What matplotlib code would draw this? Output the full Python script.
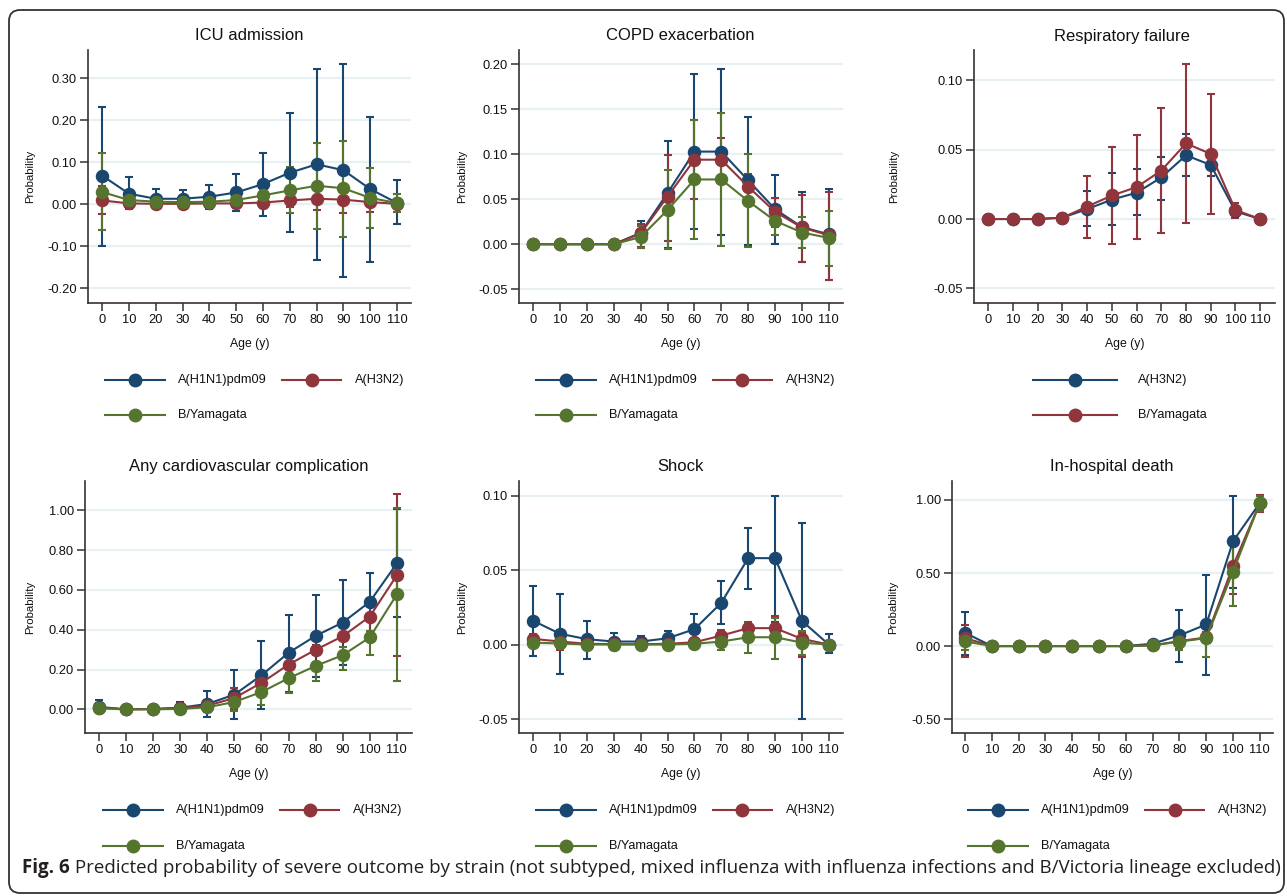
import numpy as np
import matplotlib
matplotlib.use('Agg')
import matplotlib.pyplot as plt
from matplotlib.lines import Line2D
from matplotlib.patches import FancyBboxPatch
from matplotlib.transforms import IdentityTransform

plt.rcParams['font.family'] = ['Liberation Sans', 'DejaVu Sans']
plt.rcParams['axes.unicode_minus'] = False

# ---------------- data ----------------
ages = [0, 10, 20, 30, 40, 50, 60, 70, 80, 90, 100, 110]
age_labels = [str(a) for a in ages]
strain_labels = ["A(H1N1)pdm09", "A(H3N2)", "B/Yamagata"]

# ICU admission
icu_h1n1 = [0.068, 0.025, 0.013, 0.013, 0.018, 0.028, 0.048, 0.075, 0.095, 0.081, 0.036, 0.003]
icu_h1n1_lo = [-0.099, -0.012, -0.008, -0.006, -0.012, -0.017, -0.028, -0.066, -0.132, -0.174, -0.137, -0.047]
icu_h1n1_hi = [0.232, 0.064, 0.037, 0.034, 0.045, 0.071, 0.123, 0.217, 0.321, 0.333, 0.208, 0.058]
icu_h3n2 = [0.009, 0.002, 0.001, 0.001, 0.002, 0.002, 0.004, 0.009, 0.013, 0.011, 0.005, 0.001]
icu_h3n2_lo = [-0.023, -0.006, -0.003, -0.003, -0.005, -0.006, -0.008, -0.006, -0.014, -0.021, -0.018, -0.004]
icu_h3n2_hi = [0.044, 0.010, 0.005, 0.005, 0.009, 0.010, 0.016, 0.024, 0.040, 0.045, 0.028, 0.006]
icu_byam = [0.029, 0.010, 0.006, 0.005, 0.006, 0.010, 0.021, 0.033, 0.044, 0.038, 0.015, 0.003]
icu_byam_lo = [-0.062, -0.006, -0.003, -0.003, -0.005, -0.008, -0.010, -0.022, -0.060, -0.079, -0.057, -0.019]
icu_byam_hi = [0.121, 0.027, 0.015, 0.013, 0.017, 0.028, 0.052, 0.089, 0.146, 0.151, 0.087, 0.024]

# COPD exacerbation
copd_h1n1 = [0, 0, 0, 0, 0.0126, 0.057, 0.103, 0.103, 0.071, 0.039, 0.019, 0.011]
copd_h1n1_lo = [0, 0, 0, 0, -0.004, -0.004, 0.017, 0.010, -0.001, 0.0, -0.020, -0.040]
copd_h1n1_hi = [0, 0, 0, 0, 0.026, 0.115, 0.189, 0.195, 0.141, 0.077, 0.058, 0.061]
copd_h3n2 = [0, 0, 0, 0, 0.012, 0.053, 0.094, 0.094, 0.064, 0.036, 0.0186, 0.010]
copd_h3n2_lo = [0, 0, 0, 0, -0.003, 0.004, 0.050, 0.070, 0.050, 0.019, -0.020, -0.040]
copd_h3n2_hi = [0, 0, 0, 0, 0.023, 0.099, 0.138, 0.118, 0.078, 0.051, 0.055, 0.058]
copd_byam = [0, 0, 0, 0, 0.008, 0.038, 0.072, 0.072, 0.048, 0.026, 0.013, 0.007]
copd_byam_lo = [0, 0, 0, 0, -0.004, -0.005, 0.006, -0.002, -0.003, 0.010, -0.004, -0.024]
copd_byam_hi = [0, 0, 0, 0, 0.020, 0.082, 0.138, 0.146, 0.100, 0.042, 0.030, 0.037]

# Respiratory failure (legend: A(H3N2) blue, B/Yamagata red)
resp_a = [0, 0, 0, 0.001, 0.0072, 0.014, 0.019, 0.030, 0.046, 0.039, 0.0055, 0]
resp_a_lo = [0, 0, 0, 0, -0.005, -0.004, 0.003, 0.014, 0.031, 0.031, 0.003, 0]
resp_a_hi = [0, 0, 0, 0.002, 0.020, 0.033, 0.036, 0.045, 0.0615, 0.047, 0.008, 0]
resp_b = [0, 0, 0, 0.001, 0.009, 0.017, 0.023, 0.035, 0.0546, 0.047, 0.0065, 0]
resp_b_lo = [0, 0, 0, 0, -0.0137, -0.018, -0.0144, -0.010, -0.003, 0.0036, 0.001, 0]
resp_b_hi = [0, 0, 0, 0.002, 0.031, 0.052, 0.061, 0.080, 0.112, 0.0906, 0.0115, 0]

# Any cardiovascular complication
cv_h1n1 = [0.012, 0.0, 0.002, 0.008, 0.027, 0.074, 0.171, 0.284, 0.369, 0.436, 0.540, 0.733]
cv_h1n1_lo = [-0.02, -0.003, -0.005, -0.025, -0.04, -0.049, 0.0, 0.087, 0.161, 0.221, 0.391, 0.463]
cv_h1n1_hi = [0.045, 0.004, 0.01, 0.037, 0.092, 0.198, 0.344, 0.475, 0.575, 0.651, 0.686, 1.005]
cv_h3n2 = [0.008, 0.0, 0.001, 0.005, 0.018, 0.057, 0.133, 0.225, 0.299, 0.367, 0.466, 0.673]
cv_h3n2_lo = [-0.01, -0.002, -0.003, -0.01, -0.012, 0.0, 0.106, 0.18, 0.272, 0.347, 0.372, 0.267]
cv_h3n2_hi = [0.03, 0.003, 0.005, 0.02, 0.049, 0.107, 0.163, 0.267, 0.324, 0.384, 0.560, 1.08]
cv_byam = [0.005, 0.0, 0.0, 0.002, 0.010, 0.037, 0.087, 0.156, 0.218, 0.272, 0.361, 0.577]
cv_byam_lo = [-0.01, -0.002, -0.002, -0.005, -0.01, -0.007, 0.022, 0.081, 0.143, 0.195, 0.275, 0.141]
cv_byam_hi = [0.02, 0.002, 0.003, 0.01, 0.03, 0.065, 0.119, 0.18, 0.237, 0.314, 0.393, 1.013]

# Shock
shock_h1n1 = [0.0159, 0.0072, 0.0036, 0.002, 0.002, 0.0042, 0.0103, 0.028, 0.058, 0.058, 0.0159, 0.0]
shock_h1n1_lo = [-0.0074, -0.020, -0.0096, -0.0038, 0.0, 0.001, 0.0, 0.014, 0.037, 0.0154, -0.050, -0.006]
shock_h1n1_hi = [0.039, 0.034, 0.0156, 0.0078, 0.006, 0.0092, 0.0206, 0.0425, 0.078, 0.100, 0.0818, 0.007]
shock_h3n2 = [0.0038, 0.002, 0.0005, 0.0003, 0.0002, 0.0005, 0.0015, 0.006, 0.011, 0.011, 0.0038, 0.0]
shock_h3n2_lo = [0.0, -0.0036, -0.001, -0.001, -0.001, -0.001, -0.001, 0.002, 0.0065, 0.0027, -0.0087, 0.0]
shock_h3n2_hi = [0.007, 0.005, 0.002, 0.0015, 0.001, 0.002, 0.004, 0.010, 0.0154, 0.019, 0.0076, 0.0]
shock_byam = [0.0013, 0.0007, 0.0, 0.0, 0.0, 0.0, 0.0005, 0.002, 0.0049, 0.0049, 0.0013, 0.0]
shock_byam_lo = [-0.0015, -0.002, -0.001, -0.001, -0.001, -0.001, -0.001, -0.0036, -0.0056, -0.0098, -0.0067, 0.0]
shock_byam_hi = [0.004, 0.003, 0.001, 0.001, 0.001, 0.001, 0.002, 0.0054, 0.0143, 0.0177, 0.0094, 0.0]

# In-hospital death
death_h1n1 = [0.091, 0, 0, 0, 0, 0, 0, 0.016, 0.073, 0.148, 0.718, 0.98]
death_h1n1_lo = [-0.061, 0, 0, 0, 0, 0, 0, 0.0, -0.107, -0.196, 0.40, 0.93]
death_h1n1_hi = [0.230, 0, 0, 0, 0, 0, 0, 0.03, 0.244, 0.487, 1.03, 1.03]
death_h3n2 = [0.055, 0, 0, 0, 0, 0, 0, 0.005, 0.034, 0.059, 0.549, 0.98]
death_h3n2_lo = [-0.077, 0, 0, 0, 0, 0, 0, 0.0, -0.02, 0.03, 0.358, 0.92]
death_h3n2_hi = [0.146, 0, 0, 0, 0, 0, 0, 0.01, 0.09, 0.089, 0.74, 1.034]
death_byam = [0.032, 0, 0, 0, 0, 0, 0, 0.005, 0.030, 0.055, 0.51, 0.98]
death_byam_lo = [-0.03, 0, 0, 0, 0, 0, 0, 0.0, -0.03, -0.077, 0.276, 0.927]
death_byam_hi = [0.09, 0, 0, 0, 0, 0, 0, 0.01, 0.055, 0.096, 0.715, 1.03]

titles = ["ICU admission", "COPD exacerbation", "Respiratory failure",
          "Any cardiovascular complication", "Shock", "In-hospital death"]
caption_bold = "Fig. 6"
caption_rest = (" Predicted probability of severe outcome by strain (not subtyped, mixed influenza "
                "with influenza infections and B/Victoria lineage excluded)")

# ---------------- style ----------------
BLUE, RED, GREEN = '#1a476f', '#90353b', '#55752f'
GRID = '#e8f0f2'
AX = '#333333'
W, H = 1287, 896

fig = plt.figure(figsize=(W / 100, H / 100), dpi=100)


def px_axes(l, r, t, b):
    return fig.add_axes([l / W, 1 - b / H, (r - l) / W, (b - t) / H])


def draw_panel(ax, series, xlim, ylim, yticks, ylab_x):
    for est, lo, hi, color in series:
        est = np.asarray(est, float)
        lo = np.asarray(lo, float)
        hi = np.asarray(hi, float)
        yerr = np.vstack([est - lo, hi - est])
        ax.errorbar(ages, est, yerr=yerr, color=color, lw=1.5, marker='o', ms=8.7,
                    capsize=3.0, elinewidth=1.5, capthick=1.5)
    ax.set_xlim(*xlim)
    ax.set_ylim(*ylim)
    ax.set_xticks(ages)
    ax.set_xticklabels(age_labels)
    ax.set_yticks(yticks)
    ax.set_yticklabels([f"{v:.2f}" for v in yticks])
    ax.grid(axis='y', color=GRID, lw=1.6)
    ax.set_axisbelow(True)
    for s in ('top', 'right'):
        ax.spines[s].set_visible(False)
    for s in ('left', 'bottom'):
        ax.spines[s].set_color(AX)
        ax.spines[s].set_linewidth(1.2)
    ax.tick_params(direction='out', length=6, width=1.1, color=AX, labelsize=9.3,
                   pad=2, labelcolor='#111111')
    ax.set_ylabel("Probability", fontsize=8.2, color='#111111')
    ax.yaxis.set_label_coords(ylab_x, 0.5)
    ax.set_xlabel("Age (y)", fontsize=8.8, color='#111111')
    ax.xaxis.set_label_coords(0.5, -0.14)


def legend_entry(x0, x1, y, color, label, tx):
    xm = (x0 + x1) / 2
    fig.add_artist(Line2D([x0 / W, x1 / W], [1 - y / H, 1 - y / H], color=color, lw=1.5,
                          transform=fig.transFigure))
    fig.add_artist(Line2D([xm / W], [1 - y / H], color=color, marker='o', ms=9,
                          transform=fig.transFigure))
    fig.text(tx / W, 1 - y / H, label, fontsize=9.2, va='center', ha='left', color='#111111')


def title(cx, y, text):
    fig.text(cx / W, 1 - y / H, text, fontsize=12, ha='center', va='center', color='#111111')


# Panel 1
ax1 = px_axes(88, 411, 50, 303)
draw_panel(ax1, [(icu_h1n1, icu_h1n1_lo, icu_h1n1_hi, BLUE),
                 (icu_h3n2, icu_h3n2_lo, icu_h3n2_hi, RED),
                 (icu_byam, icu_byam_lo, icu_byam_hi, GREEN)],
           (-5.3, 115.2), (-0.235, 0.367), [-0.2, -0.1, 0.0, 0.1, 0.2, 0.3], -0.164)
title(249, 36, titles[0])

# Panel 2
ax2 = px_axes(519, 843, 50, 303)
draw_panel(ax2, [(copd_h1n1, copd_h1n1_lo, copd_h1n1_hi, BLUE),
                 (copd_h3n2, copd_h3n2_lo, copd_h3n2_hi, RED),
                 (copd_byam, copd_byam_lo, copd_byam_hi, GREEN)],
           (-5.3, 115.3), (-0.0654, 0.216), [-0.05, 0.0, 0.05, 0.10, 0.15, 0.20], -0.16)
title(680, 36, titles[1])

# Panel 3
ax3 = px_axes(974, 1275, 50, 303)
draw_panel(ax3, [(resp_a, resp_a_lo, resp_a_hi, BLUE),
                 (resp_b, resp_b_lo, resp_b_hi, RED)],
           (-5.8, 116), (-0.0606, 0.122), [-0.05, 0.0, 0.05, 0.10], -0.25)
title(1122, 36, titles[2])

# Panel 4
ax4 = px_axes(85, 412, 481, 733)
draw_panel(ax4, [(cv_h1n1, cv_h1n1_lo, cv_h1n1_hi, BLUE),
                 (cv_h3n2, cv_h3n2_lo, cv_h3n2_hi, RED),
                 (cv_byam, cv_byam_lo, cv_byam_hi, GREEN)],
           (-5.2, 115.6), (-0.119, 1.147), [0.0, 0.2, 0.4, 0.6, 0.8, 1.0], -0.153)
title(249, 466, titles[3])

# Panel 5
ax5 = px_axes(519, 843, 481, 733)
draw_panel(ax5, [(shock_h1n1, shock_h1n1_lo, shock_h1n1_hi, BLUE),
                 (shock_h3n2, shock_h3n2_lo, shock_h3n2_hi, RED),
                 (shock_byam, shock_byam_lo, shock_byam_hi, GREEN)],
           (-5.3, 115.3), (-0.0594, 0.1098), [-0.05, 0.0, 0.05, 0.10], -0.16)
title(680, 466, titles[4])

# Panel 6
ax6 = px_axes(952, 1273, 481, 733)
draw_panel(ax6, [(death_h1n1, death_h1n1_lo, death_h1n1_hi, BLUE),
                 (death_h3n2, death_h3n2_lo, death_h3n2_hi, RED),
                 (death_byam, death_byam_lo, death_byam_hi, GREEN)],
           (-4.85, 114.9), (-0.595, 1.13), [-0.5, 0.0, 0.5, 1.0], -0.168)
title(1112, 466, titles[5])

# Legends
def three_legend(left, r1, r2):
    legend_entry(left + 17, left + 77, r1, BLUE, strain_labels[0], left + 90)
    legend_entry(left + 194, left + 253, r1, RED, strain_labels[1], left + 267)
    legend_entry(left + 17, left + 77, r2, GREEN, strain_labels[2], left + 90)

three_legend(88, 380, 415)
three_legend(519, 380, 415)
legend_entry(1033, 1117, 380, BLUE, strain_labels[1], 1138)
legend_entry(1033, 1117, 415, RED, strain_labels[2], 1138)
three_legend(86, 810, 846)
three_legend(519, 810, 846)
three_legend(951, 810, 846)

# Outer frame
frame = FancyBboxPatch((9, H - 893), 1275, 883, boxstyle="round,pad=0,rounding_size=11",
                       fill=False, ec='#333333', lw=1.3, transform=IdentityTransform())
fig.add_artist(frame)

# Caption
fs = 13.0
cap_y = 1 - 868 / H
t1 = fig.text(22 / W, cap_y, caption_bold, fontsize=fs, fontweight='bold',
              family=['Open Sans', 'DejaVu Sans'], va='center', ha='left', color='#231f20')
r = fig.canvas.get_renderer()
bb1 = t1.get_window_extent(r)
t2 = fig.text(bb1.x1 / W, cap_y, caption_rest, fontsize=fs,
              family=['Open Sans', 'DejaVu Sans'], va='center', ha='left', color='#231f20')
bb2 = t2.get_window_extent(r)
total = bb2.x1 - 22
scale = (1274 - 22) / total
fs2 = fs * scale
t1.set_fontsize(fs2)
t2.set_fontsize(fs2)
bb1 = t1.get_window_extent(r)
t2.set_x(bb1.x1 / W)

fig.savefig('out.png', dpi=100)
